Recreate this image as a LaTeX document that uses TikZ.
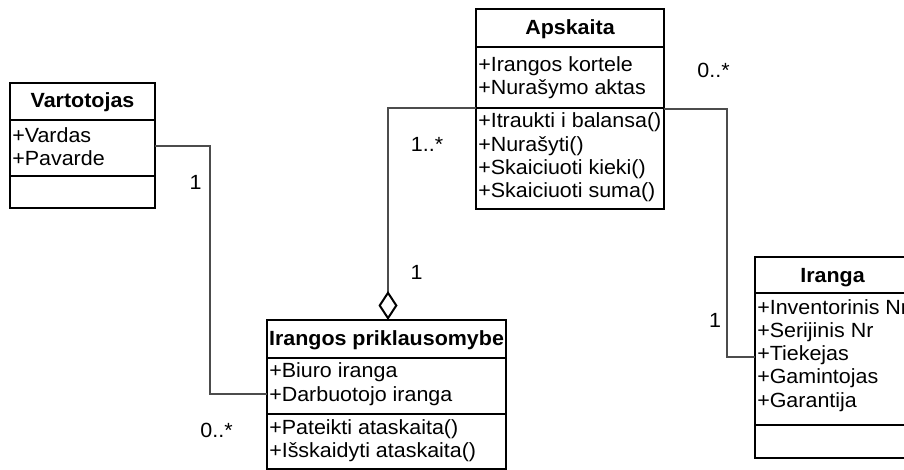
\documentclass[tikz,border=0pt]{standalone}
\usepackage{fontspec}
\setmainfont{Liberation Sans}[FakeStretch=1.045]
\usetikzlibrary{arrows.meta}
\begin{document}
\begin{tikzpicture}[x=0.75pt,y=-0.75pt,
  classbox/.style={draw, line width=1.5pt, outer sep=0pt, inner sep=0pt, anchor=north west},
  sepline/.style={line width=1.5pt},
  title/.style={font=\bfseries\fontsize{15.4pt}{17pt}\selectfont, anchor=base, inner sep=0pt},
  member/.style={font=\fontsize{15.4pt}{17pt}\selectfont, anchor=base west, inner sep=0pt},
  mult/.style={font=\fontsize{15.4pt}{17pt}\selectfont, anchor=base, inner sep=0pt},
  link/.style={draw=black!70, line width=0.9pt},
]
\useasboundingbox (0,0) rectangle (904,470);
\clip (0,0) rectangle (904,470);

% ---- Vartotojas
\node[classbox, minimum width={145*0.75pt}, minimum height={125*0.75pt}] (vart) at (10,83) {};
\draw[sepline] (vart.west |- 0,120) -- (vart.east |- 0,120);
\draw[sepline] (vart.west |- 0,176) -- (vart.east |- 0,176);
\node[title] (vartT) at (82.5,108) {Vartotojas};
\node[member] (vartA1) at (12,143) {+Vardas};
\node[member] (vartA2) at (12,166) {+Pavarde};

% ---- Apskaita
\node[classbox, minimum width={188*0.75pt}, minimum height={200*0.75pt}] (aps) at (476,9) {};
\draw[sepline] (aps.west |- 0,47) -- (aps.east |- 0,47);
\draw[sepline] (aps.west |- 0,108) -- (aps.east |- 0,108);
\node[title] (apsT) at (570,35) {Apskaita};
\node[member] (apsA1) at (478,72) {+Irangos kortele};
\node[member] (apsA2) at (478,95) {+Nurašymo aktas};
\node[member] (apsM1) at (478,128) {+Itraukti i balansa()};
\node[member] (apsM2) at (478,152) {+Nurašyti()};
\node[member] (apsM3) at (478,175) {+Skaiciuoti kieki()};
\node[member] (apsM4) at (478,198) {+Skaiciuoti suma()};

% ---- Irangos priklausomybe
\node[classbox, minimum width={239*0.75pt}, minimum height={149*0.75pt}] (irp) at (267,320) {};
\draw[sepline] (irp.west |- 0,358) -- (irp.east |- 0,358);
\draw[sepline] (irp.west |- 0,414) -- (irp.east |- 0,414);
\node[title] (irpT) at (386.5,346) {Irangos priklausomybe};
\node[member] (irpA1) at (269,378) {+Biuro iranga};
\node[member] (irpA2) at (269,402) {+Darbuotojo iranga};
\node[member] (irpM1) at (269,435) {+Pateikti ataskaita()};
\node[member] (irpM2) at (269,458) {+Išskaidyti ataskaita()};

% ---- Iranga (runs past the right edge)
\node[classbox, minimum width={155*0.75pt}, minimum height={201*0.75pt}] (iranga) at (755,257) {};
\draw[sepline] (iranga.west |- 0,293) -- (iranga.east |- 0,293);
\draw[sepline] (iranga.west |- 0,425) -- (iranga.east |- 0,425);
\node[title] (irangaT) at (832.5,283) {Iranga};
\node[member] (irangaA1) at (757,315) {+Inventorinis Nr};
\node[member] (irangaA2) at (757,338) {+Serijinis Nr};
\node[member] (irangaA3) at (757,361) {+Tiekejas};
\node[member] (irangaA4) at (757,384) {+Gamintojas};
\node[member] (irangaA5) at (757,407) {+Garantija};

% ---- associations
\draw[link] (vart.east |- 0,146) -| (210,394) -- (irp.west |- 0,394);
\draw[link, -{Diamond[open, length={29*0.75pt}, width={19*0.75pt}, line width=1.5pt, color=black]}]
  (aps.west |- 0,108) -| (irp.north -| 388,0);
\draw[link] (aps.east |- 0,109) -| (727,357) -- (iranga.west |- 0,357);

% ---- multiplicities
\node[mult] (m1) at (195.5,190) {1};
\node[mult] (m2) at (216.5,437) {0..*};
\node[mult] (m3) at (427,152) {1..*};
\node[mult] (m4) at (416.5,280) {1};
\node[mult] (m5) at (713.5,78) {0..*};
\node[mult] (m6) at (715,328) {1};
\end{tikzpicture}
\end{document}
